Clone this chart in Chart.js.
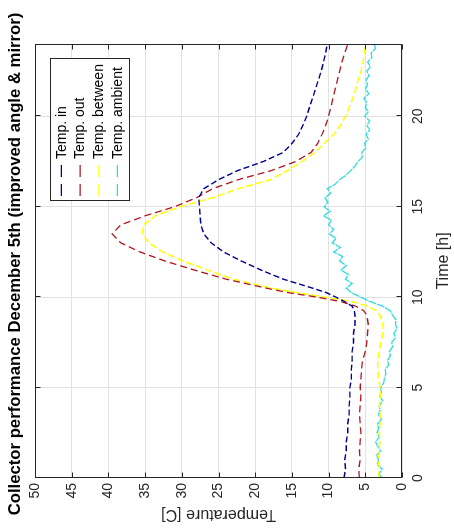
<!DOCTYPE html>
<html><head><meta charset="utf-8">
<script src="https://cdn.jsdelivr.net/npm/chart.js@4.4.1/dist/chart.umd.min.js"></script>
<style>
html,body{margin:0;padding:0;background:#fff;overflow:hidden;width:454px;height:528px;}
#wrap{position:absolute;left:0;top:0;width:528px;height:454px;transform-origin:0 0;transform:translate(0,528px) rotate(-90deg);background:#fff;}
canvas{display:block;}
</style></head><body>
<div id="wrap"><canvas id="c" width="528" height="454"></canvas></div>
<script>
const chartTitle = 'Collector performance December 5th (improved angle & mirror)';
const xTitle = 'Time [h]';
const yTitle = 'Temperature [C]';
const seriesNames = ['Temp. in', 'Temp. out', 'Temp. between', 'Temp. ambient'];

const hours = [0,0.5,1,1.5,2,2.5,3,3.5,4,4.5,5,5.5,6,6.5,7,7.5,8,8.5,9,
  9.25,9.5,9.75,10,10.25,
  10.5,11,11.5,12,12.5,13,13.5,14,14.5,15,15.5,16,16.5,17,17.5,18,18.5,19,19.5,20,20.5,21,21.5,22,22.5,23,23.5,24];

const tempIn = [7.9,7.7,7.8,7.6,7.6,7.4,7.4,7.2,7.2,7.1,7.1,6.9,6.9,6.8,6.8,6.6,6.6,6.4,6.4,
  6.5,6.8,7.8,9.0,10.3,
  12.2,16.2,19.2,21.9,24.3,26.0,27.0,27.4,27.5,27.6,27.7,27.0,25.0,22.4,18.9,16.2,15.0,14.1,13.5,13.0,12.6,12.2,11.8,11.4,11.0,10.7,10.4,10.2];

const tempOut = [5.8,5.9,5.7,5.8,5.7,5.6,5.7,5.8,5.7,5.6,5.7,5.6,5.5,5.4,5.0,4.8,4.7,4.6,4.8,
  5.2,6.3,8.3,11.5,15.5,
  18.5,24.0,28.3,32.3,35.7,38.3,39.5,38.3,35.0,31.0,28.0,25.8,22.3,17.8,14.5,12.4,11.5,10.9,10.4,10.0,9.7,9.4,9.1,8.8,8.5,8.2,7.8,7.4];

const tempBetween = [3.2,3.1,3.2,3.1,3.0,3.1,3.0,3.0,3.1,2.9,3.0,3.2,3.3,3.3,3.1,2.9,2.6,2.6,3.0,
  3.5,4.6,6.8,10.5,14.3,
  17.8,23.0,26.5,29.8,32.6,34.5,35.4,35.2,33.6,30.2,25.8,22.3,17.9,15.6,13.6,11.9,10.6,9.3,8.4,7.7,7.2,6.7,6.3,6.0,5.6,5.3,5.1,5.0];

const hoursFine = [0,0.25,0.5,0.75,1,1.25,1.5,1.75,2,2.25,2.5,2.75,3,3.25,3.5,3.75,4,4.25,4.5,4.75,
  5,5.25,5.5,5.75,6,6.25,6.5,6.75,7,7.25,7.5,7.75,8,8.25,8.5,8.75,9,9.25,9.5,9.75,
  10,10.25,10.5,10.75,11,11.25,11.5,11.75,12,12.25,12.5,12.75,13,13.25,13.5,13.75,14,14.25,14.5,14.75,
  15,15.25,15.5,15.75,16,16.25,16.5,16.75,17,17.25,17.5,17.75,18,18.25,18.5,18.75,19,19.25,19.5,19.75,
  20,20.25,20.5,20.75,21,21.25,21.5,21.75,22,22.25,22.5,22.75,23,23.25,23.5,23.75,24];

const tempAmbient = [2.8,3.1,2.7,3.4,3.2,3.5,2.9,3.3,3.6,3.1,3.4,3.2,3.3,2.8,3.2,3.0,3.1,2.6,3.0,2.8,
  2.9,2.5,2.4,2.2,2.3,1.8,2.0,1.6,1.7,1.3,1.4,0.9,1.1,0.7,0.9,0.8,1.3,1.6,2.6,4.3,
  5.6,6.9,7.6,6.8,7.7,7.3,8.3,7.6,8.5,8.1,9.3,8.4,9.5,9.0,9.9,9.3,10.0,9.6,10.7,9.8,
  10.6,10.1,10.5,9.7,10.2,9.1,8.5,7.6,7.0,6.4,6.0,5.4,5.5,4.9,5.1,4.6,4.9,4.4,4.8,4.4,
  5.1,4.6,5.0,4.8,5.2,4.5,5.0,4.7,4.9,4.5,4.8,4.3,4.7,4.1,4.2,3.6,3.8];

const yTicks = [0,5,10,15,20,25,30,35,40,45,50];
const xTicks = [0,5,10,15,20];

const colors = ['#000090', '#b0141e', '#ffff00', '#2edcdc'];
const FONT = '"Liberation Sans", Arial, Helvetica, sans-serif';
const INK = '#262626';

function pts(xs, ys){ return xs.map((x,i)=>({x:x, y:ys[i]})); }

const framePlugin = {
  id: 'frameLegend',
  afterDatasetsDraw(chart){
    const {ctx, chartArea:a, scales:{x, y}} = chart;
    ctx.save();
    ctx.strokeStyle = INK; ctx.lineWidth = 1; ctx.setLineDash([]);
    const L = Math.round(a.left)+0.5, T = Math.round(a.top)+0.5, R = Math.round(a.right)-0.5, B = Math.round(a.bottom)-0.5;
    ctx.strokeRect(L, T, R-L, B-T);
    ctx.beginPath();
    x.ticks.forEach(t=>{ const px = Math.round(x.getPixelForValue(t.value))+0.5; ctx.moveTo(px,B); ctx.lineTo(px,B-5); ctx.moveTo(px,T); ctx.lineTo(px,T+5); });
    y.ticks.forEach(t=>{ const py = Math.round(y.getPixelForValue(t.value))+0.5; ctx.moveTo(L,py); ctx.lineTo(L+5,py); ctx.moveTo(R,py); ctx.lineTo(R-5,py); });
    ctx.stroke();
    const ds = chart.data.datasets;
    ctx.font = '14px ' + FONT;
    const textW = Math.max(...ds.map(d=>ctx.measureText(d.label).width));
    const padL=5, lineLen=31, gap=6, padR=5, rowH=18.7, padT=2;
    const w = Math.round(padL+lineLen+gap+textW+padR), h = Math.round(padT*2+rowH*ds.length);
    const bx = Math.round(a.right - 15 - w), by = Math.round(a.top + 15);
    ctx.fillStyle = '#fff'; ctx.fillRect(bx, by, w, h);
    ctx.strokeStyle = INK; ctx.strokeRect(bx+0.5, by+0.5, w, h);
    ds.forEach((d,i)=>{
      const cy = by + padT + rowH*(i+0.5);
      ctx.setLineDash([12,7]); ctx.strokeStyle = d.borderColor; ctx.lineWidth = 1.2;
      ctx.beginPath(); ctx.moveTo(bx+padL, cy); ctx.lineTo(bx+padL+lineLen, cy); ctx.stroke();
      ctx.setLineDash([]);
      ctx.fillStyle = '#000'; ctx.textBaseline = 'middle'; ctx.textAlign = 'left';
      ctx.fillText(d.label, bx+padL+lineLen+gap, cy+0.5);
    });
    ctx.restore();
  }
};

new Chart(document.getElementById('c'), {
  type: 'line',
  data: {
    datasets: [
      {label: seriesNames[0], data: pts(hours, tempIn), borderColor: colors[0], borderWidth: 1.4, borderDash:[6,3]},
      {label: seriesNames[1], data: pts(hours, tempOut), borderColor: colors[1], borderWidth: 1.3, borderDash:[7,4]},
      {label: seriesNames[2], data: pts(hours, tempBetween), borderColor: colors[2], borderWidth: 1.5, borderDash:[7,3]},
      {label: seriesNames[3], data: pts(hoursFine, tempAmbient), borderColor: colors[3], borderWidth: 1.3, borderDash:[8,1]}
    ].map(d=>Object.assign(d, {pointRadius:0, fill:false, tension:0, yAxisID:'y'}))
  },
  options: {
    responsive: false, animation: false, devicePixelRatio: 1,
    layout: {padding: 0},
    plugins: {
      legend: {display:false}, tooltip: {enabled:false},
      title: {display:true, text: chartTitle, fullSize:true, color:'#000',
        font:{family:FONT, size:16.7, weight:'bold'}, padding:{top:5, bottom:10}}
    },
    scales: {
      x: {type:'linear', min:0, max:24,
        afterBuildTicks: s=>{ s.ticks = xTicks.map(v=>({value:v})); },
        ticks: {color:INK, font:{family:FONT, size:14}, padding:8, maxRotation:0},
        grid: {color:'#e2e2e2', drawTicks:false},
        border: {display:false},
        title: {display:true, text:xTitle, color:INK, font:{family:FONT, size:16}, padding:{top:0, bottom:1}},
        afterFit: s=>{ s.height = 52; }
      },
      y: {type:'linear', position:'left', min:0, max:50,
        afterBuildTicks: s=>{ s.ticks = yTicks.map(v=>({value:v})); },
        ticks: {color:INK, font:{family:FONT, size:14}, padding:5},
        grid: {color:'#e2e2e2', drawTicks:false},
        border: {display:false},
        title: {display:true, text:yTitle, color:INK, font:{family:FONT, size:16}, padding:{top:4, bottom:0}},
        afterFit: s=>{ s.width = 50; }
      },
      yRight: {type:'linear', position:'right', min:0, max:50,
        ticks: {display:false}, grid: {display:false, drawTicks:false}, border: {display:false},
        afterFit: s=>{ s.width = 44; }
      }
    }
  },
  plugins: [framePlugin]
});
</script>
</body></html>
